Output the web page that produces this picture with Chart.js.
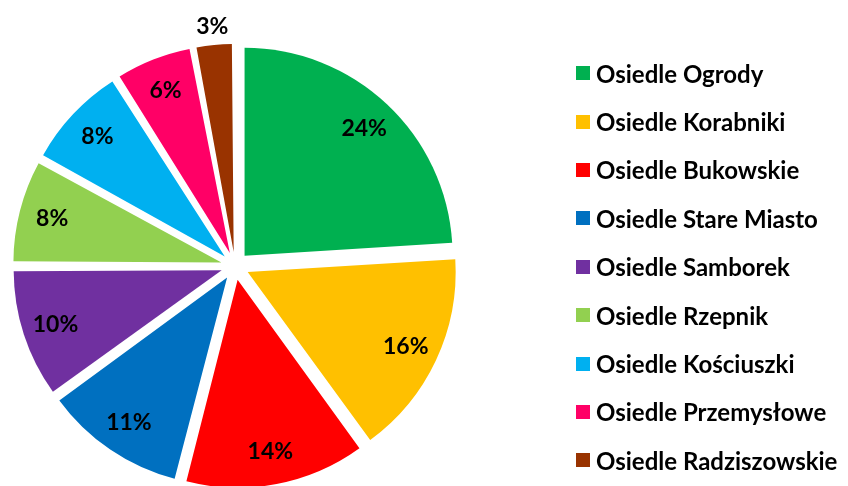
<!DOCTYPE html>
<html>
<head>
<meta charset="utf-8">
<script src="https://cdn.jsdelivr.net/npm/chart.js@4"></script>
<style>
  html, body { margin: 0; padding: 0; background: #fff; }
  #wrap { position: relative; width: 848px; height: 486px; }
  #legend {
    position: absolute; left: 576px; top: 49px;
    font-family: Lato, 'Open Sans', sans-serif; font-weight: bold;
    font-size: 24px; color: #000;
  }
  .item { display: flex; align-items: center; height: 48.4px; white-space: nowrap; }
  .box { width: 14px; height: 14px; margin-right: 6px; flex: none; }
</style>
</head>
<body>
<div id="wrap">
  <canvas id="chart" width="848" height="486"></canvas>
  <div id="legend"></div>
</div>
<script>
// Share of responses by district (percent)
const LABELS = [
  'Osiedle Ogrody', 'Osiedle Korabniki', 'Osiedle Bukowskie',
  'Osiedle Stare Miasto', 'Osiedle Samborek', 'Osiedle Rzepnik',
  'Osiedle Kościuszki', 'Osiedle Przemysłowe', 'Osiedle Radziszowskie'
];
const VALUES = [24, 16, 14, 11, 10, 8, 8, 6, 3];
const COLORS = [
  '#00B050', '#FFC000', '#FF0000', '#0070C0', '#7030A0',
  '#92D050', '#00B0F0', '#FF0066', '#993300'
];

const LABEL_FONT = 'bold 23px Lato, "Open Sans", sans-serif';
const EXPLODE = 56;   // Chart.js moves each slice by offset / 4

// Chart.js grows narrow exploded slices by offset/4 * (1 - sin(angle));
// take that back so every slice keeps the same radius, like Excel does.
const evenRadius = {
  id: 'evenRadius',
  afterDatasetUpdate(chart, args) {
    args.meta.data.forEach(arc => {
      const span = arc.endAngle - arc.startAngle;
      const fix = 1 - Math.sin(Math.min(Math.PI, span));
      arc.outerRadius -= (EXPLODE / 4) * fix;
    });
  }
};

// ── Percent labels: inside the slice, tiny slices outside ──────────────────
const pctLabels = {
  id: 'pctLabels',
  afterDatasetsDraw(chart) {
    const ctx = chart.ctx;
    const meta = chart.getDatasetMeta(0);
    const total = VALUES.reduce((a, b) => a + b, 0);
    ctx.save();
    ctx.font = LABEL_FONT;
    ctx.fillStyle = '#000';
    ctx.textAlign = 'center';
    ctx.textBaseline = 'middle';
    meta.data.forEach((arc, i) => {
      const p = arc.getProps(['x', 'y', 'startAngle', 'endAngle'], true);
      const mid = (p.startAngle + p.endAngle) / 2;
      const share = VALUES[i] / total;
      const k = share < 0.05 ? 1.09 : 0.84;
      const r = EXPLODE / 4 + 208 * k;
      const pct = Math.round(share * 100) + '%';
      ctx.fillText(pct, p.x + Math.cos(mid) * r, p.y + Math.sin(mid) * r);
    });
    ctx.restore();
  }
};

new Chart(document.getElementById('chart'), {
  type: 'pie',
  data: {
    labels: LABELS,
    datasets: [{
      data: VALUES,
      backgroundColor: COLORS,
      borderWidth: 0,
      offset: EXPLODE
    }]
  },
  options: {
    responsive: false,
    animation: false,
    radius: 208,
    layout: { padding: { left: 0, top: 46, right: 378, bottom: 0 } },
    plugins: {
      legend: { display: false },
      tooltip: { enabled: false }
    }
  },
  plugins: [evenRadius, pctLabels]
});

// ── Legend (HTML, built from the same arrays) ─────────────────────────────
const legendEl = document.getElementById('legend');
LABELS.forEach((name, i) => {
  const row = document.createElement('div');
  row.className = 'item';
  const box = document.createElement('span');
  box.className = 'box';
  box.style.background = COLORS[i];
  const txt = document.createElement('span');
  txt.textContent = name;
  row.appendChild(box);
  row.appendChild(txt);
  legendEl.appendChild(row);
});
</script>
</body>
</html>
